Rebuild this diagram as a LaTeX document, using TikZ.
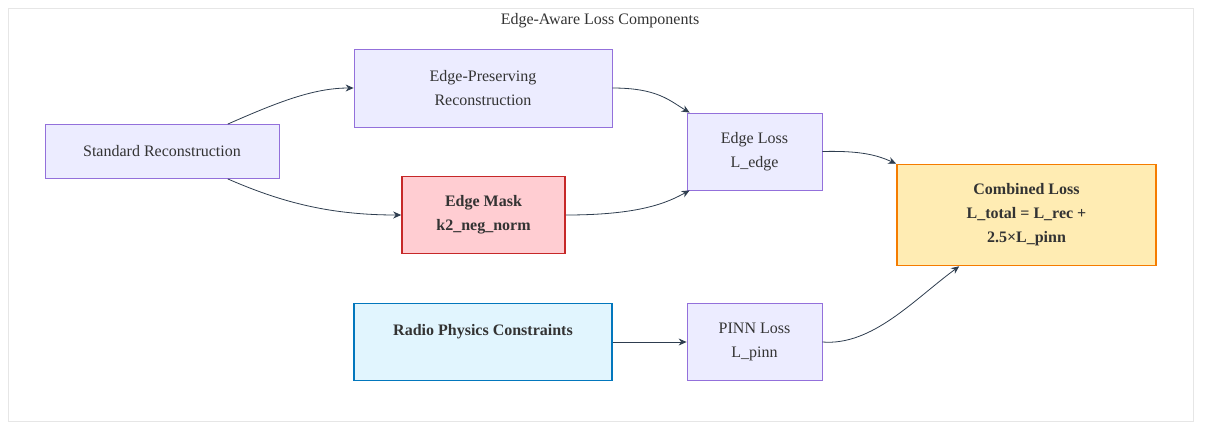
\documentclass[tikz,border=0pt]{standalone}
\usepackage{fontspec}
\setmainfont{Liberation Serif}
\usetikzlibrary{arrows.meta,calc}
\definecolor{defFill}{HTML}{ECECFF}
\definecolor{defStroke}{HTML}{9370DB}
\definecolor{redFill}{HTML}{FFCDD2}
\definecolor{redStroke}{HTML}{C62828}
\definecolor{orFill}{HTML}{FFECB3}
\definecolor{orStroke}{HTML}{F57C00}
\definecolor{blFill}{HTML}{E1F5FE}
\definecolor{blStroke}{HTML}{0277BD}
\definecolor{lineC}{HTML}{2E3D4F}
\definecolor{txtC}{HTML}{333333}
\definecolor{frameC}{HTML}{E6E6E6}
\tikzset{
  base/.style={draw, rectangle, inner sep=0pt, align=center, text=txtC,
    font=\fontsize{16}{24}\selectfont},
  defbox/.style={base, fill=defFill, draw=defStroke, line width=0.8pt},
  redbox/.style={base, fill=redFill, draw=redStroke, line width=1.6pt, font=\fontsize{16}{24}\selectfont\bfseries},
  orbox/.style={base, fill=orFill, draw=orStroke, line width=1.6pt, font=\fontsize{16}{24}\selectfont\bfseries},
  blbox/.style={base, fill=blFill, draw=blStroke, line width=1.6pt, font=\fontsize{16}{24}\selectfont\bfseries},
  conn/.style={draw=lineC, line width=0.8pt, -{Stealth[length=8pt,width=7pt]}},
}
\begin{document}
\begin{tikzpicture}[x=1pt,y=-1pt]
\useasboundingbox (0,0) rectangle (1209,432);
\draw[frameC, line width=1pt] (8,8) rectangle (1193,421);
\node[text=txtC, font=\fontsize{16}{20}\selectfont] (title) at (600,20.5) {Edge-Aware Loss Components};

\node[defbox, minimum width=234pt, minimum height=54pt] (std) at (162,151.5) {Standard Reconstruction};
\node[defbox, minimum width=258pt, minimum height=78pt] (epr) at (483,88) {Edge-Preserving\\Reconstruction};
\node[redbox, minimum width=163pt, minimum height=77pt] (mask) at (483.5,215) {Edge Mask\\k2\_neg\_norm};
\node[defbox, minimum width=135pt, minimum height=77pt] (el) at (754.5,151.5) {Edge Loss\\L\_edge};
\node[orbox, minimum width=259pt, minimum height=101pt] (cl) at (1026.5,215) {Combined Loss\\L\_total = L\_rec +\\2.5×L\_pinn};
\node[blbox, minimum width=258pt, minimum height=77pt] (rpc) at (483,342) {Radio Physics Constraints\\~};
\node[defbox, minimum width=135pt, minimum height=77pt] (pl) at (754.5,342) {PINN Loss\\L\_pinn};

\coordinate (s1) at ($(std.north west)!0.78!(std.north east)$);
\coordinate (s2) at ($(std.south west)!0.78!(std.south east)$);
\coordinate (e1) at ([xshift=3pt]el.north west);
\coordinate (e2) at ([xshift=3pt]el.south west);
\coordinate (c1) at ([xshift=0pt]cl.north west);
\coordinate (c2) at ([xshift=63pt]cl.south west);

\draw[conn] (s1) .. controls +(50,-22) and +(-40,0) .. (epr.west);
\draw[conn] (s2) .. controls +(55,24) and +(-70,0) .. (mask.west);
\draw[conn] (epr.east) .. controls +(45,0) and +(-20,-12) .. (e1);
\draw[conn] (mask.east) .. controls +(75,0) and +(-22,12) .. (e2);
\draw[conn] (el.east) .. controls +(40,-1) and +(-18,-8) .. (c1);
\draw[conn] (rpc.east) -- (pl.west);
\draw[conn] (pl.east) .. controls +(50,4) and +(-45,33) .. (c2);
\end{tikzpicture}
\end{document}
